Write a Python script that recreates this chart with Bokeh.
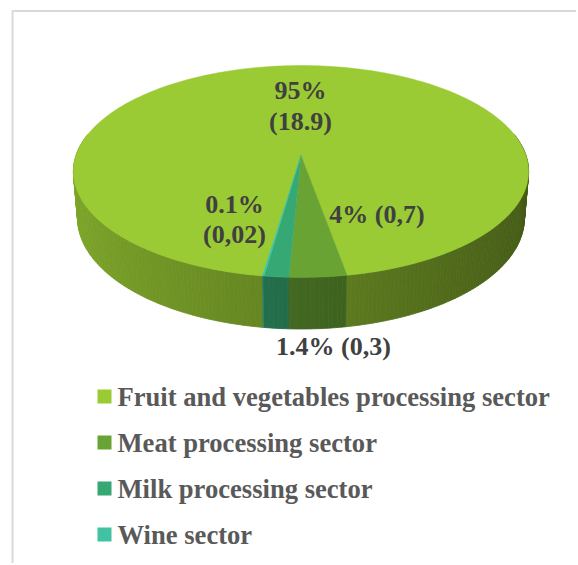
import numpy as np
from bokeh.plotting import figure
from bokeh.models import Range1d
from bokeh.embed import file_html
from bokeh.resources import INLINE
from bokeh.core.properties import value

# ---- data ----
categories = ["Fruit and vegetables processing sector", "Meat processing sector",
              "Milk processing sector", "Wine sector"]
values = [18.9, 0.7, 0.3, 0.02]
percent_labels = ["95%", "4%", "1.4%", "0.1%"]
value_labels = ["(18.9)", "(0,7)", "(0,3)", "(0,02)"]
colors = ["#9ACB34", "#68A334", "#36A873", "#41C2A3"]

# ---- layout ----
W, H = 576, 563
p = figure(width=W, height=H, x_range=Range1d(0, W), y_range=Range1d(H, 0),
           output_backend="svg", toolbar_location=None, min_border=0)
p.axis.visible = False
p.grid.visible = False
p.outline_line_color = None
p.background_fill_color = "white"
p.border_fill_color = "white"

# chart-area frame
p.quad(left=12, right=900, top=10.5, bottom=900, fill_color=None,
       line_color="#D9D9D9", line_width=2)

# perspective projection of the 3D pie
CX, CY = 300.5, 155.0
FOC, DIST, PHI, DEPTH = 1323.0, 5.88, np.radians(27.4), 0.235
cph, sph = np.cos(PHI), np.sin(PHI)


def proj(t, yv, r=1.0):
    x = r * np.cos(t)
    z = r * np.sin(t)
    up = yv * cph + z * sph
    dep = DIST + z * cph - yv * sph
    return CX + FOC * x / dep, CY - FOC * up / dep


def hex2rgb(h):
    h = h.lstrip("#")
    return np.array([int(h[i:i + 2], 16) for i in (0, 2, 4)], dtype=float)


def shade(h, f):
    rgb = np.clip(hex2rgb(h) * f, 0, 255).astype(int)
    return "#%02x%02x%02x" % tuple(rgb)


vals = np.array(values, dtype=float)
fracs = vals / vals.sum()
cum = np.concatenate([[0.0], np.cumsum(fracs)])
START = np.radians(261.6)          # first slice angle, drawn clockwise
bounds0 = START - cum[:-1] * 2 * np.pi
bounds1 = START - cum[1:] * 2 * np.pi


def slice_of(a):
    u = ((START - a) % (2 * np.pi)) / (2 * np.pi)
    return int(np.clip(np.searchsorted(cum, u, side="right") - 1, 0, len(vals) - 1))


# ---- side wall (front half) ----
lo, hi = np.radians(168), np.radians(372)
brk = list(np.linspace(lo, hi, 205))
for b in np.concatenate([bounds0, bounds1]):
    for k in range(-2, 3):
        bb = b + k * 2 * np.pi
        if lo < bb < hi:
            brk.append(bb)
brk = np.unique(np.array(brk))
sxs, sys_, scol = [], [], []
for a, b in zip(brk[:-1], brk[1:]):
    m = 0.5 * (a + b)
    i = slice_of(m)
    f = 0.635 - 0.185 * np.cos(m)
    x1, y1 = proj(a, 0.0)
    x2, y2 = proj(b, 0.0)
    x3, y3 = proj(b, -DEPTH)
    x4, y4 = proj(a, -DEPTH)
    sxs.append([x1, x2, x3, x4])
    sys_.append([y1, y2, y3, y4])
    scol.append(shade(colors[i], f))
p.patches(sxs, sys_, fill_color=scol, line_color=scol, line_width=0.8)

# ---- top face ----
txs, tys = [], []
for i in range(len(vals)):
    n = max(3, int(abs(bounds0[i] - bounds1[i]) / np.radians(1)) + 2)
    ts = np.linspace(bounds0[i], bounds1[i], n)
    ax, ay = proj(ts, 0.0)
    txs.append([CX] + list(ax))
    tys.append([CY] + list(ay))
p.patches(txs, tys, fill_color=colors, line_color=colors, line_width=0.5)

# ---- data labels ----
FONT = value("Liberation Serif")
lab_text = [percent_labels[0], value_labels[0],
            percent_labels[1] + " " + value_labels[1],
            percent_labels[2] + " " + value_labels[2],
            percent_labels[3], value_labels[3]]
lab_x = [300, 300, 376.5, 333, 234, 234]
lab_y = [90, 121, 214, 346, 203.5, 234]
p.text(x=lab_x, y=lab_y, text=lab_text, text_font=FONT, text_font_style="bold",
       text_font_size="26px", text_color="#404040", text_align="center",
       text_baseline="middle")

# ---- legend ----
LEG_X, LEG_Y0, LEG_DY, SQ = 104, 396, 46, 14
ly = [LEG_Y0 + k * LEG_DY for k in range(len(categories))]
p.rect(x=[LEG_X] * len(categories), y=ly, width=SQ, height=SQ,
       fill_color=colors, line_color=None)
p.text(x=[LEG_X + 13] * len(categories), y=ly, text=categories,
       text_font=FONT, text_font_style="bold", text_font_size="26.6px",
       text_color="#595959", text_align="left", text_baseline="middle")

open("out.html", "w").write(file_html(p, INLINE))
